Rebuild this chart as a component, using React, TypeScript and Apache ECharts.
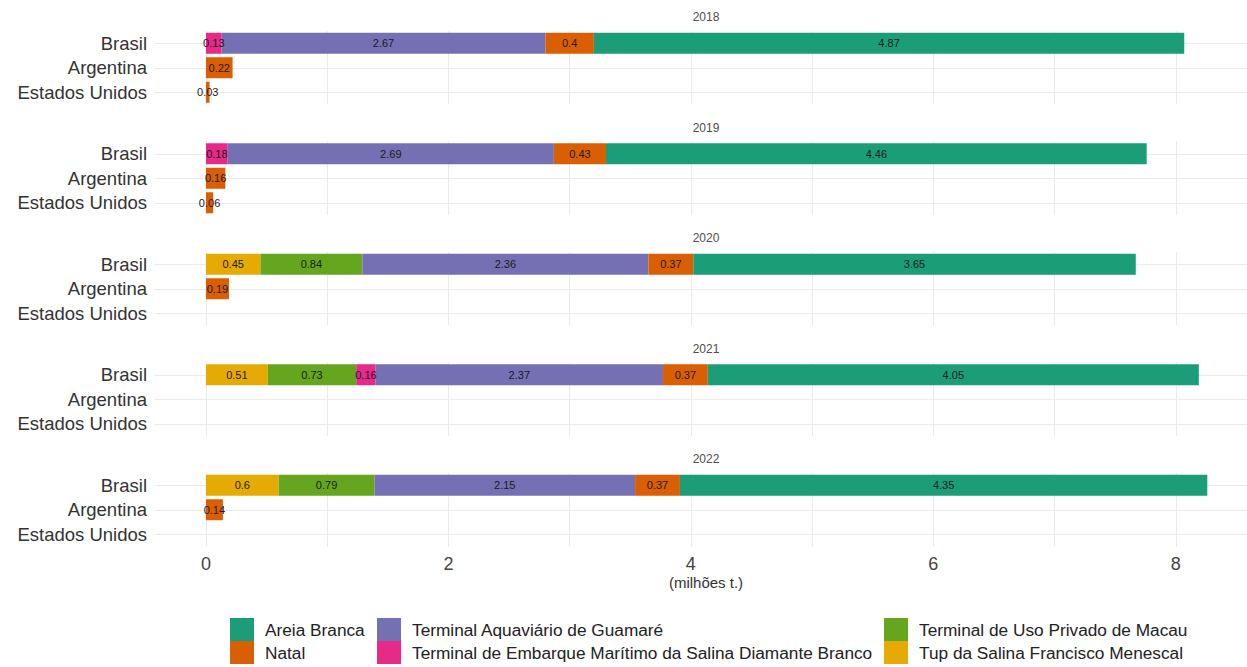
import React, { useEffect, useRef } from "react";
import * as echarts from "echarts";

const categories = ["Brasil", "Argentina", "Estados Unidos"];
const years = ["2018", "2019", "2020", "2021", "2022"];

// values per year: [Brasil, Argentina, Estados Unidos] (milhões t.)
const areiaBranca = [[4.87, null, null], [4.46, null, null], [3.65, null, null], [4.05, null, null], [4.35, null, null]];
const natal = [[0.4, 0.22, 0.03], [0.43, 0.16, 0.06], [0.37, 0.19, null], [0.37, null, null], [0.37, 0.14, null]];
const guamare = [[2.67, null, null], [2.69, null, null], [2.36, null, null], [2.37, null, null], [2.15, null, null]];
const diamanteBranco = [[0.13, null, null], [0.18, null, null], [null, null, null], [0.16, null, null], [null, null, null]];
const macau = [[null, null, null], [null, null, null], [0.84, null, null], [0.73, null, null], [0.79, null, null]];
const tup = [[null, null, null], [null, null, null], [0.45, null, null], [0.51, null, null], [0.6, null, null]];

const N_AREIA = "Areia Branca";
const N_NATAL = "Natal";
const N_GUAMARE = "Terminal Aquaviário de Guamaré";
const N_DIAMANTE = "Terminal de Embarque Marítimo da Salina Diamante Branco";
const N_MACAU = "Terminal de Uso Privado de Macau";
const N_TUP = "Tup da Salina Francisco Menescal";

// stacking order, from the left
const stackSeries = [
  { name: N_TUP, data: tup, color: "#E6AB02" },
  { name: N_MACAU, data: macau, color: "#66A61E" },
  { name: N_DIAMANTE, data: diamanteBranco, color: "#E7298A" },
  { name: N_GUAMARE, data: guamare, color: "#7570B3" },
  { name: N_NATAL, data: natal, color: "#D95F02" },
  { name: N_AREIA, data: areiaBranca, color: "#1B9E77" },
];

const legendCols = [
  [N_AREIA, N_NATAL],
  [N_GUAMARE, N_DIAMANTE],
  [N_MACAU, N_TUP],
];

const FONT = "Liberation Sans, Arial, sans-serif";

export default function App() {
  const ref = useRef<HTMLDivElement>(null);
  useEffect(() => {
    if (!ref.current) return;
    const chart = echarts.init(ref.current, null, { renderer: "svg" });
    const gridTop0 = 31;
    const period = 110.5;
    const gridH = 73.5;
    const grids = years.map((_, i) => ({
      left: 155,
      right: -10,
      top: gridTop0 + i * period,
      height: gridH,
      containLabel: false,
      outerBoundsMode: "none",
    }));
    const last = years.length - 1;
    const xAxes = years.map((_, i) => ({
      type: "value",
      gridIndex: i,
      min: -0.42,
      max: 8.67,
      splitNumber: 10,
      axisLine: { show: false },
      axisTick: { show: false },
      splitLine: {
        show: true,
        showMinLine: false,
        showMaxLine: false,
        lineStyle: { color: "#ebebeb", width: 1 },
      },
      axisLabel: {
        show: i === last,
        margin: 8,
        fontSize: 18,
        color: "#444",
        fontFamily: FONT,
        formatter: (v: number) => (Math.abs(v % 2) < 1e-9 && Math.abs(v - Math.round(v)) < 1e-9 ? String(v) : ""),
      },
      name: i === last ? "(milhões t.)" : "",
      nameLocation: "middle",
      nameGap: 28,
      nameTextStyle: { fontSize: 15, color: "#333", fontFamily: FONT },
    }));
    const yAxes = years.map((_, i) => ({
      type: "category",
      gridIndex: i,
      data: categories,
      inverse: true,
      axisLine: { show: false },
      axisTick: { show: false },
      splitLine: { show: false },
      axisLabel: { interval: 0, margin: 8, fontSize: 18.5, color: "#333", fontFamily: FONT },
    }));
    const series: any[] = [];
    years.forEach((y, i) => {
      stackSeries.forEach((s, k) => {
        series.push({
          type: "bar",
          name: s.name,
          xAxisIndex: i,
          yAxisIndex: i,
          stack: "total" + i,
          barWidth: 21,
          itemStyle: { color: s.color },
          data: s.data[i],
          label: {
            show: true,
            position: "inside",
            fontSize: 11,
            color: "#1a1a1a",
            fontFamily: FONT,
            formatter: (p: any) => (p.value == null ? "" : String(p.value)),
          },
          markLine:
            k === 0
              ? {
                  silent: true,
                  symbol: "none",
                  z: 1,
                  label: { show: false },
                  lineStyle: { color: "#ebebeb", width: 1, type: "solid" },
                  data: categories.map((c) => ({ yAxis: c })),
                }
              : undefined,
        });
      });
    });
    const graphic = years.map((y, i) => ({
      type: "text",
      x: 706,
      y: gridTop0 + i * period - 14,
      style: {
        text: y,
        fontSize: 12,
        fill: "#4d4d4d",
        fontFamily: FONT,
        textAlign: "center",
        textVerticalAlign: "middle",
      },
      silent: true,
    }));
    const legendLefts = [230, 377, 884];
    const legend = legendCols.map((items, j) => ({
      data: items,
      left: legendLefts[j],
      top: 618,
      orient: "vertical",
      itemWidth: 24,
      itemHeight: 23,
      itemGap: 0,
      padding: 0,
      icon: "rect",
      selectedMode: false,
      textStyle: { fontSize: 17.25, color: "#222", fontFamily: FONT, padding: [0, 0, 0, 6] },
    }));
    chart.setOption({
      animation: false,
      backgroundColor: "#ffffff",
      grid: grids,
      xAxis: xAxes,
      yAxis: yAxes,
      series,
      legend,
      graphic,
    });
    return () => chart.dispose();
  }, []);
  return (
    <div
      ref={ref}
      style={{ position: "fixed", left: 0, top: 0, width: 1247, height: 667 }}
    />
  );
}
